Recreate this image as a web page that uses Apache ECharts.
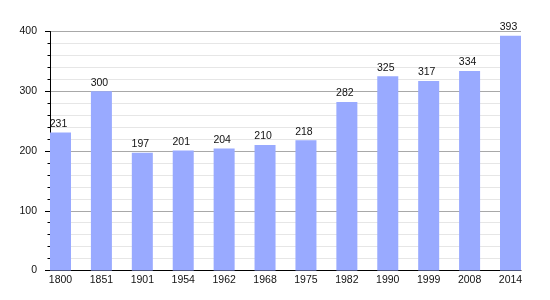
<!DOCTYPE html>
<html>
<head>
<meta charset="utf-8">
<script src="https://cdn.jsdelivr.net/npm/echarts@6/dist/echarts.min.js"></script>
<style>html,body{margin:0;padding:0;background:#fff}#c{width:550px;height:300px}</style>
</head>
<body>
<div id="c"></div>
<script>
var years = ['1800','1851','1901','1954','1962','1968','1975','1982','1990','1999','2008','2014'];
var population = [231,300,197,201,204,210,218,282,325,317,334,393];
var yTicks = [0,100,200,300,400];

var chart = echarts.init(document.getElementById('c'), null, {renderer:'canvas'});
var font = 'Liberation Sans, Arial, sans-serif';
chart.setOption({
  animation: false,
  grid: [
    {left: 50, top: 31.5, width: 471, height: 239},
    {left: 60.5, top: 31.5, width: 450, height: 239}
  ],
  xAxis: [
    {gridIndex: 0, type: 'value', min: 0, max: 1,
     axisLine: {show: true, lineStyle: {color: '#000', width: 1}},
     axisTick: {show: false}, axisLabel: {show: false}, splitLine: {show: false}},
    {gridIndex: 1, type: 'category', data: years, boundaryGap: false,
     axisLine: {show: false}, axisTick: {show: false}, splitLine: {show: false},
     axisLabel: {margin: 4, fontSize: 10.5, fontFamily: font, color: '#111', interval: 0}}
  ],
  yAxis: [
    {gridIndex: 0, type: 'value', min: yTicks[0], max: yTicks[yTicks.length-1], interval: 100,
     axisLine: {show: true, lineStyle: {color: '#000', width: 1}},
     axisTick: {show: true, length: 5, lineStyle: {color: '#000'}},
     minorTick: {show: true, splitNumber: 5, length: 2.5, lineStyle: {color: '#000'}},
     splitLine: {show: true, lineStyle: {color: '#a8a8a8', width: 1}},
     minorSplitLine: {show: true, lineStyle: {color: '#e6e6e6', width: 1}},
     axisLabel: {margin: 13, fontSize: 10.5, fontFamily: font, color: '#111'}},
    {gridIndex: 1, type: 'value', min: 0, max: 400,
     axisLine: {show: false}, axisTick: {show: false}, axisLabel: {show: false}, splitLine: {show: false}}
  ],
  series: [{
    type: 'bar', xAxisIndex: 1, yAxisIndex: 1, data: population, barWidth: 21, clip: false,
    itemStyle: {color: '#99aaff'},
    label: {show: true, position: 'top', distance: 3, offset: [-2, 0], fontSize: 10.5, fontFamily: font, color: '#111'}
  }]
});
</script>
</body>
</html>
